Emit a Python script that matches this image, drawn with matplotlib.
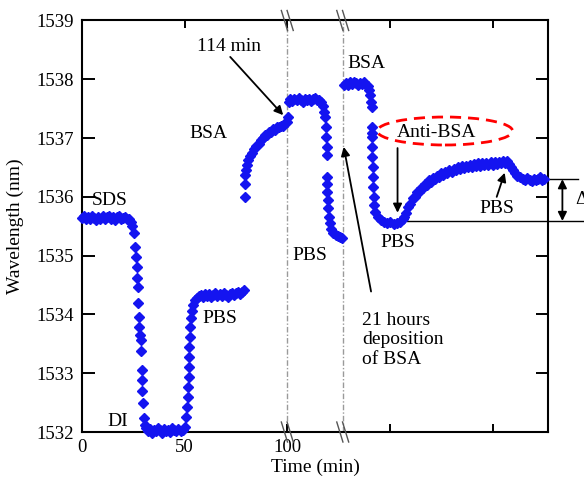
import numpy as np
import matplotlib
matplotlib.use("Agg")
import matplotlib.pyplot as plt
from matplotlib.patches import Ellipse

plt.rcParams['font.family'] = ['Liberation Serif', 'DejaVu Serif']

# veriler
sds_t = [0, 1, 2, 3, 4, 5, 6, 7, 8, 9, 10, 11, 12, 13, 14, 15, 16, 17, 18, 19, 20, 21, 22, 23, 24]
sds_wl = [1535.64, 1535.67, 1535.62, 1535.66, 1535.63, 1535.68, 1535.64, 1535.61, 1535.66, 1535.63,
          1535.67, 1535.62, 1535.65, 1535.68, 1535.63, 1535.66, 1535.61, 1535.65, 1535.67, 1535.62,
          1535.64, 1535.66, 1535.62, 1535.63, 1535.58]

drop1_t = [24.6, 25.2, 25.9, 26.3, 26.7, 27.0, 27.2, 27.5, 27.8, 28.0, 28.3, 28.5, 28.7, 29.0,
           29.1, 29.4, 29.7, 30.2, 30.6]
drop1_wl = [1535.50, 1535.38, 1535.15, 1534.98, 1534.81, 1534.62, 1534.47, 1534.20, 1533.96,
            1533.79, 1533.65, 1533.57, 1533.37, 1533.06, 1532.89, 1532.70, 1532.49, 1532.24, 1532.12]

di_t = [31, 32, 33, 34, 35, 36, 37, 38, 39, 40, 41, 42, 43, 44, 45, 46, 47, 48, 49]
di_wl = [1532.06, 1532.02, 1532.05, 1531.99, 1532.04, 1532.01, 1532.06, 1532.03, 1531.98, 1532.05,
         1532.02, 1532.04, 1532.00, 1532.06, 1532.03, 1532.01, 1532.05, 1532.02, 1532.04]

rise1_t = [50.2, 50.7, 51.1, 51.4, 51.6, 51.9, 52.0, 52.2, 52.3, 52.4, 52.7, 53.0, 53.5, 54.3,
           55.2, 55.9, 56.8]
rise1_wl = [1532.09, 1532.26, 1532.43, 1532.60, 1532.77, 1532.94, 1533.11, 1533.28, 1533.45,
            1533.62, 1533.79, 1533.94, 1534.05, 1534.16, 1534.24, 1534.28, 1534.31]

pbs1_t = [58, 59, 60, 61, 62, 63, 64, 65, 66, 67, 68, 69, 70, 71, 72, 73, 74, 75, 76, 77, 78, 79]
pbs1_wl = [1534.33, 1534.29, 1534.34, 1534.31, 1534.35, 1534.30, 1534.33, 1534.36, 1534.31, 1534.34,
           1534.32, 1534.36, 1534.33, 1534.30, 1534.35, 1534.37, 1534.33, 1534.36, 1534.38, 1534.35,
           1534.39, 1534.42]

bsa1_t = [79.2, 79.3, 79.5, 79.8, 80.3, 81, 82, 83, 84, 85, 86, 87, 88, 89, 90, 91, 92, 93, 94,
          95, 96, 97, 98, 99, 99.7, 100.2]
bsa1_wl = [1536.00, 1536.22, 1536.38, 1536.46, 1536.55, 1536.62, 1536.70, 1536.74, 1536.82,
           1536.86, 1536.90, 1536.97, 1537.00, 1537.05, 1537.06, 1537.10, 1537.11, 1537.15,
           1537.14, 1537.18, 1537.19, 1537.21, 1537.20, 1537.25, 1537.28, 1537.36]

pbs2_t = [100.6, 101.5, 102.5, 103.5, 104.5, 105.5, 106.5, 107.5, 108.5, 109.5, 110.5, 111.5,
          112.5, 113.5, 114.5, 115.5, 116.5]
pbs2_wl = [1537.62, 1537.66, 1537.63, 1537.67, 1537.64, 1537.68, 1537.65, 1537.62, 1537.66,
           1537.64, 1537.67, 1537.63, 1537.66, 1537.68, 1537.64, 1537.65, 1537.62]

drop2_t = [117.3, 117.8, 118.3, 118.7, 119.0, 119.2, 119.3, 119.4, 119.3, 119.5, 119.6, 119.8,
           120.2, 120.8, 121.5, 122.5, 123.5, 124.5, 125.5, 126.5]
drop2_wl = [1537.55, 1537.45, 1537.36, 1537.19, 1537.02, 1536.85, 1536.71, 1536.34, 1536.22,
            1536.09, 1535.95, 1535.81, 1535.66, 1535.55, 1535.46, 1535.39, 1535.35, 1535.33,
            1535.31, 1535.30]

bsa2_t = [127.6, 128.5, 129.5, 130.5, 131.5, 132.5, 133.5, 134.5, 135.5, 136.5, 137.5, 138.5,
          139.3, 140.0, 140.5, 140.9, 141.1]
bsa2_wl = [1537.90, 1537.94, 1537.91, 1537.95, 1537.92, 1537.96, 1537.93, 1537.90, 1537.94,
           1537.92, 1537.95, 1537.91, 1537.88, 1537.82, 1537.73, 1537.62, 1537.53]

drop3_t = [141.2, 141.2, 141.3, 141.3, 141.4, 141.6, 141.7, 141.8, 142.0, 142.3, 142.9, 144.0,
           145.5, 147.0, 148.5, 150.2, 151.8, 153.5, 155.0, 156.2]
drop3_wl = [1537.19, 1537.08, 1537.02, 1536.85, 1536.68, 1536.51, 1536.34, 1536.17, 1536.00,
            1535.86, 1535.74, 1535.66, 1535.61, 1535.58, 1535.55, 1535.57, 1535.53, 1535.56,
            1535.58, 1535.62]

anti_t = [157, 158, 159, 160, 161, 162, 163, 164, 165, 166, 167, 168, 169, 170, 171, 172, 173,
          174, 175, 176, 177, 178, 179, 180, 181, 182, 183, 184, 185, 186, 187, 188, 189, 190,
          191, 192, 193, 194, 195, 196, 197, 198, 199, 200, 201, 202, 203, 204, 205, 206, 207]
anti_wl = [1535.66, 1535.72, 1535.83, 1535.88, 1535.98, 1535.99, 1536.08, 1536.08, 1536.15,
           1536.15, 1536.22, 1536.21, 1536.28, 1536.26, 1536.32, 1536.30, 1536.36, 1536.34,
           1536.40, 1536.38, 1536.43, 1536.41, 1536.46, 1536.43, 1536.48, 1536.45, 1536.50,
           1536.47, 1536.52, 1536.49, 1536.53, 1536.50, 1536.55, 1536.51, 1536.56, 1536.52,
           1536.57, 1536.53, 1536.58, 1536.54, 1536.58, 1536.55, 1536.59, 1536.55, 1536.60,
           1536.56, 1536.60, 1536.57, 1536.61, 1536.58, 1536.61]

pbs3_t = [208.0, 209.0, 210.0, 211.0, 212.0, 213.5, 215, 216, 217, 218, 219, 220, 221, 222,
          223, 224, 225]
pbs3_wl = [1536.56, 1536.50, 1536.45, 1536.40, 1536.36, 1536.33, 1536.31, 1536.28, 1536.32,
           1536.29, 1536.27, 1536.31, 1536.28, 1536.30, 1536.33, 1536.29, 1536.31]

segments = [(sds_t, sds_wl), (drop1_t, drop1_wl), (di_t, di_wl), (rise1_t, rise1_wl),
            (pbs1_t, pbs1_wl), (bsa1_t, bsa1_wl), (pbs2_t, pbs2_wl), (drop2_t, drop2_wl),
            (bsa2_t, bsa2_wl), (drop3_t, drop3_wl), (anti_t, anti_wl), (pbs3_t, pbs3_wl)]

fig = plt.figure(figsize=(5.84, 4.82), dpi=100)
ax = fig.add_axes([0.1404, 0.1037, 0.7980, 0.8538])

blue = '#1414f0'
for t, wl in segments:
    ax.plot(t, wl, 'D', ms=5, color=blue, mec=blue, clip_on=False, zorder=3)

ax.set_xlim(0, 227)
ax.set_ylim(1532, 1539)

# eksen ayarlari
ax.set_yticks([1532, 1533, 1534, 1535, 1536, 1537, 1538, 1539])
ax.set_xticks([0, 50, 100, 150, 200])
ax.set_xticklabels(['0', '50', '100', '', ''])
ax.tick_params(axis='y', direction='in', length=9, width=1.4, labelsize=13.5, pad=6,
               right=True)
ax.tick_params(axis='x', direction='in', length=6, width=1.4, labelsize=13.5, pad=5,
               top=True)
for s in ax.spines.values():
    s.set_linewidth(1.5)

ax.set_xlabel('Time (min)', fontsize=14, labelpad=2)
ax.set_ylabel('Wavelength (nm)', fontsize=14, labelpad=9)

# kesik eksen cizgileri
for xb in [100, 127]:
    ax.axvline(xb, color='#9a9a9a', lw=1, ls=(0, (4, 1.5, 1, 1.5)), zorder=1)
    for yb in [1532, 1539]:
        for off in [-1.4, 1.4]:
            ax.plot([xb + off - 1.5, xb + off + 1.5], [yb + 0.17, yb - 0.17], color='#555555',
                    lw=1, clip_on=False, zorder=4)

# etiketler
fs = 14
ax.text(13.7, 1535.93, 'SDS', fontsize=fs, ha='center', va='center')
ax.text(17.6, 1532.18, 'DI', fontsize=fs, ha='center', va='center')
ax.text(67.1, 1533.93, 'PBS', fontsize=fs, ha='center', va='center')
ax.text(61.5, 1537.07, 'BSA', fontsize=fs, ha='center', va='center')
ax.text(71.7, 1538.56, '114 min', fontsize=fs, ha='center', va='center')
ax.text(138.8, 1538.27, 'BSA', fontsize=fs, ha='center', va='center')
ax.text(111.2, 1535.0, 'PBS', fontsize=fs, ha='center', va='center')
ax.text(153.7, 1535.22, 'PBS', fontsize=fs, ha='center', va='center')
ax.text(136.6, 1533.57, '21 hours\ndeposition\nof BSA', fontsize=fs, ha='left', va='center')
ax.text(172.7, 1537.09, 'Anti-BSA', fontsize=fs, ha='center', va='center')
ax.text(202, 1535.81, 'PBS', fontsize=fs, ha='center', va='center')

arrow = dict(arrowstyle='-|>', color='k', lw=1.3, mutation_scale=13, shrinkA=0, shrinkB=0)
ax.annotate('', xy=(98, 1537.39), xytext=(72.2, 1538.38), arrowprops=arrow)
ax.annotate('', xy=(127.5, 1536.85), xytext=(140.8, 1534.39), arrowprops=arrow)
ax.annotate('', xy=(153.7, 1535.73), xytext=(153.7, 1536.83), arrowprops=arrow)
ax.annotate('', xy=(205.9, 1536.41), xytext=(202, 1536.0), arrowprops=arrow)

ax.add_patch(Ellipse((176.8, 1537.12), 65.9, 0.476, fill=False, ec='red', ls=(0, (4, 2.5)),
                     lw=2, zorder=5))

# kayma miktari
ax.plot([158.5, 250], [1535.59, 1535.59], color='k', lw=1, clip_on=False)
ax.plot([220, 241.5], [1536.30, 1536.30], color='k', lw=1, clip_on=False)
ax.annotate('', xy=(234, 1535.59), xytext=(234, 1536.30), annotation_clip=False,
            arrowprops=dict(arrowstyle='<|-|>', color='k', lw=1.3, mutation_scale=13,
                            shrinkA=0, shrinkB=0))
ax.text(240.5, 1535.95, 'Δλ', fontsize=fs, ha='left', va='center', clip_on=False)

fig.savefig('out.png', dpi=100)
